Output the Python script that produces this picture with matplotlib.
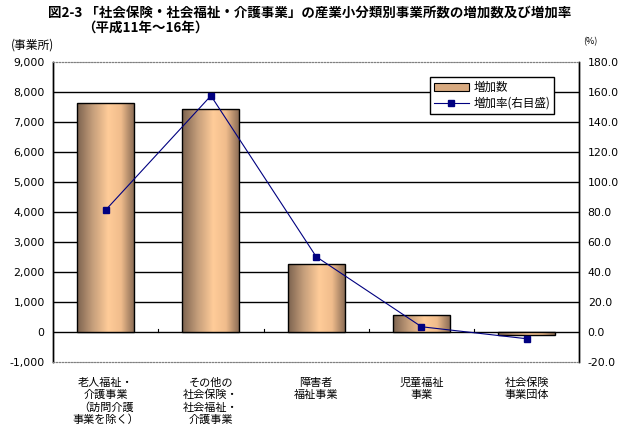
import matplotlib
matplotlib.use("Agg")
import matplotlib.pyplot as plt
import numpy as np
from matplotlib.colors import LinearSegmentedColormap
from matplotlib.patches import Rectangle
from matplotlib.lines import Line2D

plt.rcParams['font.family'] = ['Noto Sans CJK JP', 'DejaVu Sans']

categories = ["老人福祉・\n介護事業\n（訪問介護\n事業を除く）",
              "その他の\n社会保険・\n社会福祉・\n介護事業",
              "障害者\n福祉事業",
              "児童福祉\n事業",
              "社会保険\n事業団体"]
increase = [7630, 7430, 2280, 570, -100]
rate = [81.5, 157.7, 50.4, 3.7, -4.3]

left_ticks = [-1000, 0, 1000, 2000, 3000, 4000, 5000, 6000, 7000, 8000, 9000]
right_ticks = [-20, 0, 20, 40, 60, 80, 100, 120, 140, 160, 180]

fig = plt.figure(figsize=(6.2, 4.34), dpi=100)
ax = fig.add_axes([0.0855, 0.1652, 0.849, 0.6913])
ax2 = ax.twinx()

x = np.arange(len(categories))
bars = ax.bar(x, increase, width=0.54, facecolor='none', edgecolor='black', linewidth=1.0, zorder=3)

# tan gradient fill like the original
cmap = LinearSegmentedColormap.from_list(
    'tan', [(0.0, '#7d6450'), (0.25, '#c09a78'), (0.55, '#ffcc99'), (0.78, '#f0bc8c'), (1.0, '#8f7058')])
grad = np.linspace(0, 1, 64).reshape(1, -1)
for b in bars:
    bx, by = b.get_x(), b.get_y()
    w, h = b.get_width(), b.get_height()
    im = ax.imshow(grad, cmap=cmap, aspect='auto', extent=[bx, bx + w, by, by + h],
                   zorder=2, interpolation='bilinear')
    im.set_clip_path(b)

ax.set_xlim(-0.5, len(categories) - 0.5)
ax.set_ylim(-1000, 9000)
ax.set_yticks(left_ticks)
ax.set_yticklabels([f"{v:,}" for v in left_ticks], fontsize=7.8, family='DejaVu Sans')
for v in left_ticks[1:-1]:
    ax.axhline(v, color='black', linewidth=1.0, zorder=1)
ax.set_xticks(x)
ax.set_xticklabels(categories, fontsize=8, linespacing=1.25)
ax.tick_params(axis='x', length=0, pad=11)
ax.tick_params(axis='y', length=0, pad=6)
# small ticks at category boundaries on the zero line
for b in np.arange(0.5, len(categories) - 0.5, 1.0):
    ax.plot([b, b], [0, 120], color='black', linewidth=0.8, zorder=1)

ax2.plot(x, rate, color='#000080', linewidth=0.8, marker='s', markersize=5,
         markerfacecolor='#000080', markeredgecolor='#000080', zorder=5)
ax2.set_ylim(-20, 180)
ax2.set_yticks(right_ticks)
ax2.set_yticklabels([f"{v:.1f}" for v in right_ticks], fontsize=7.8, family='DejaVu Sans')
ax2.tick_params(axis='y', length=0, pad=6)

for a in (ax, ax2):
    a.spines['top'].set_linestyle(':')
    a.spines['top'].set_color('#808080')
    a.spines['bottom'].set_linestyle(':')
    a.spines['bottom'].set_color('#808080')
    a.spines['left'].set_linewidth(1.0)
    a.spines['right'].set_linewidth(1.0)

h1 = Rectangle((0, 0), 1, 1, facecolor='#d8aa80', edgecolor='black', linewidth=0.8)
h2 = Line2D([], [], color='#000080', linewidth=0.8, marker='s', markersize=5)
leg = ax2.legend([h1, h2], ["増加数", "増加率(右目盛)"], loc='upper right',
                 bbox_to_anchor=(0.963, 0.97), fontsize=8.3, frameon=True, fancybox=False,
                 edgecolor='black', framealpha=1, borderpad=0.35, handlelength=3.0,
                 handletextpad=0.4, labelspacing=0.25)
leg.get_frame().set_linewidth(1.0)

fig.text(0.5, 0.97, "図2-3 「社会保険・社会福祉・介護事業」の産業小分類別事業所数の増加数及び増加率",
         ha='center', va='center', fontsize=9.7, fontweight='bold')
fig.text(0.133, 0.936, "（平成11年～16年）", ha='left', va='center', fontsize=9.7, fontweight='bold')
fig.text(0.018, 0.896, "(事業所)", ha='left', va='center', fontsize=8.5)
fig.text(0.94, 0.903, "(%)", ha='left', va='center', fontsize=6.5)

fig.savefig("out.png", dpi=100)
